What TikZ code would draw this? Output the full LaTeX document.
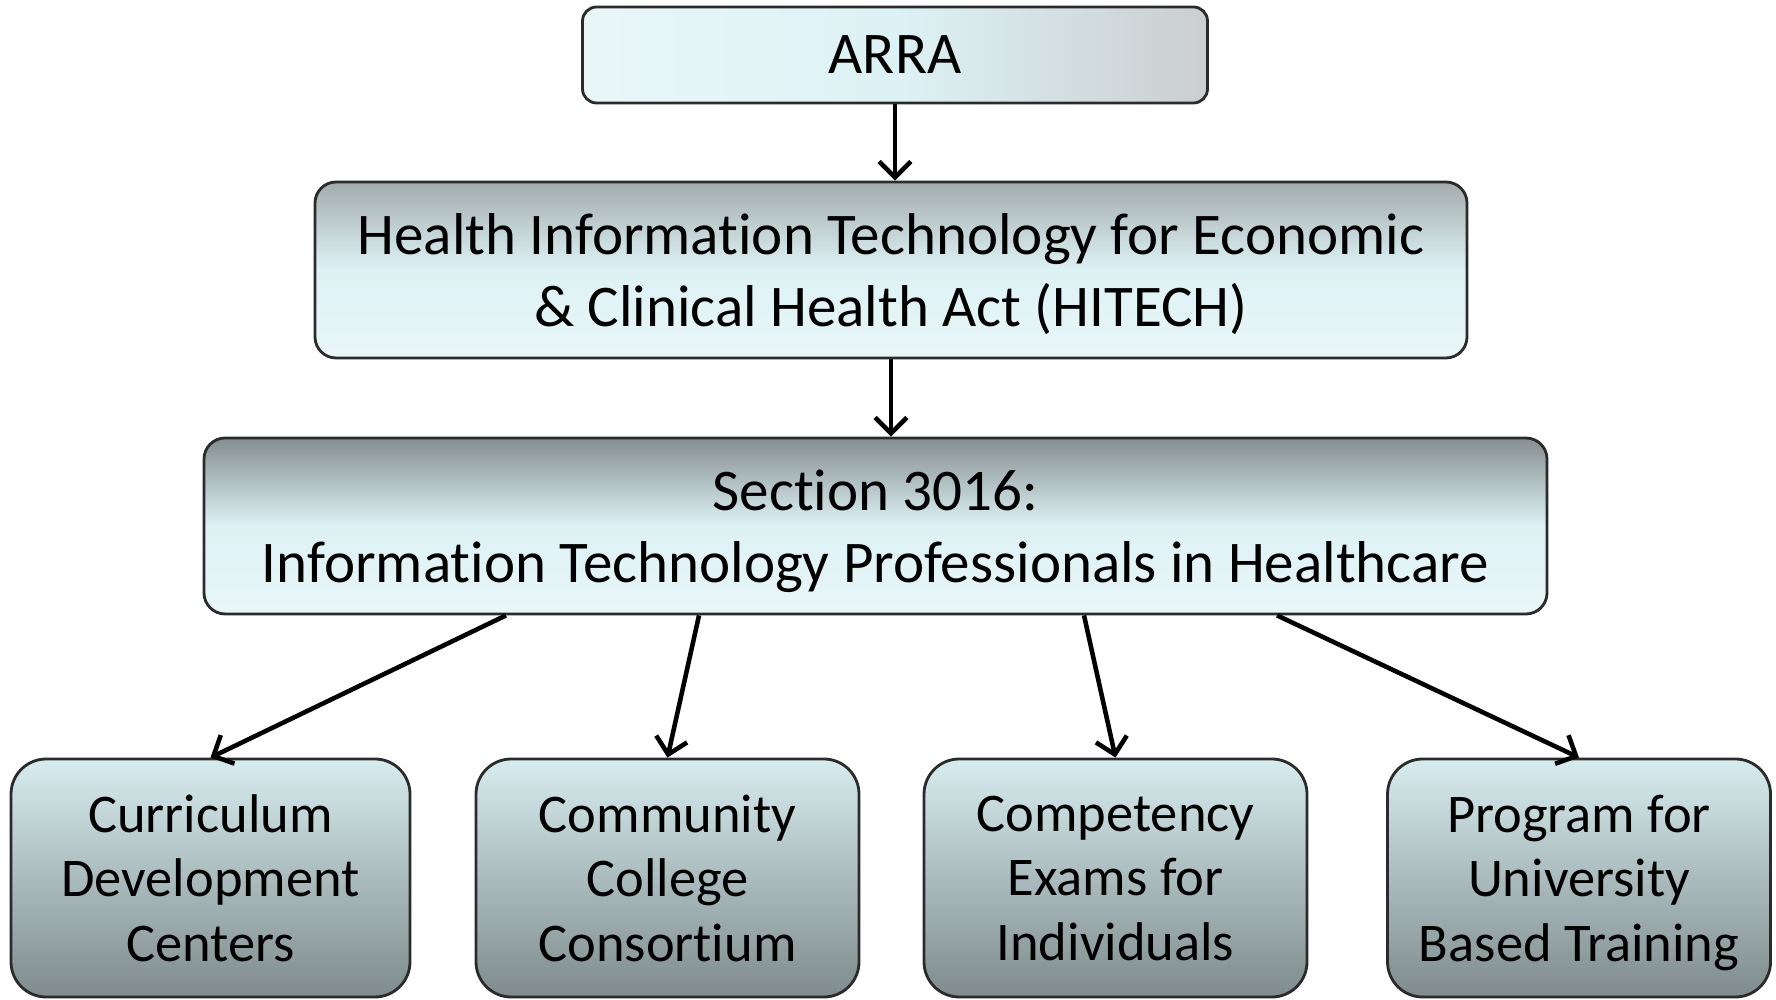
\documentclass[tikz,border=0pt]{standalone}
\usepackage{fontspec}
\setmainfont{Carlito}[Ligatures=NoCommon]
\usepackage{tikz}
\usetikzlibrary{positioning,arrows.meta,calc}
\definecolor{edge}{HTML}{2B2B2B}
\definecolor{pale}{HTML}{E9F6F8}
\definecolor{aqua}{HTML}{DDF2F5}
\definecolor{greyA}{HTML}{CBCED0}
\definecolor{greyB}{HTML}{A4ACAD}
\definecolor{greyC}{HTML}{858D8F}
\definecolor{leafTop}{HTML}{D7ECEF}
\definecolor{leafBot}{HTML}{7F8B8C}
\tikzset{
  box/.style={draw=edge,line width=0.8pt,align=center,inner sep=0pt,text depth=0pt,font=\fontsize{16.8}{20.5}\selectfont},
  topbox/.style={box,rounded corners=4pt,left color=pale,right color=greyA,middle color=aqua},
  actbox/.style={box,rounded corners=6pt,top color=greyB,bottom color=pale,middle color=aqua},
  secbox/.style={box,rounded corners=6pt,top color=greyC,bottom color=pale,middle color=aqua},
  leaf/.style={box,rounded corners=10pt,top color=leafTop,bottom color=leafBot,
    minimum width=3.83cm,minimum height=2.38cm,font=\fontsize{15.5}{18.4}\selectfont},
  arr/.style={-{Straight Barb[length=4.5pt,width=9pt]},line width=1.3pt,black},
}
\begin{document}
\begin{tikzpicture}
\useasboundingbox (0,0) rectangle (17.76,9.99);
\node[topbox,minimum width=6.25cm,minimum height=0.96cm] (arra) at (8.95,9.44) {ARRA};
\node[actbox,minimum width=11.52cm,minimum height=1.76cm] (hitech) at (8.91,7.29)
  {Health Information Technology for Economic\\\& Clinical Health Act (HITECH)};
\node[secbox,minimum width=13.43cm,minimum height=1.76cm] (sec) at (8.755,4.73)
  {Section 3016:\\Information Technology Professionals in Healthcare};
\node[leaf,minimum width=3.99cm] (cdc) at (2.105,1.21) {Curriculum\\Development\\Centers};
\node[leaf] (ccc) at (6.675,1.21) {Community\\College\\Consortium};
\node[leaf] (cei) at (11.155,1.21) {Competency\\Exams for\\Individuals};
\node[leaf] (pub) at (15.79,1.21) {Program for\\University\\Based Training};
\draw[arr] (arra.south) -- (arra.south |- hitech.north);
\draw[arr] (hitech.south) -- (hitech.south |- sec.north);
\draw[arr] ([xshift=-3.695cm]sec.south) -- (cdc.north);
\draw[arr] ([xshift=-1.765cm]sec.south) -- (ccc.north);
\draw[arr] ([xshift=2.085cm]sec.south) -- (cei.north);
\draw[arr] ([xshift=4.015cm]sec.south) -- (pub.north);
\end{tikzpicture}
\end{document}
